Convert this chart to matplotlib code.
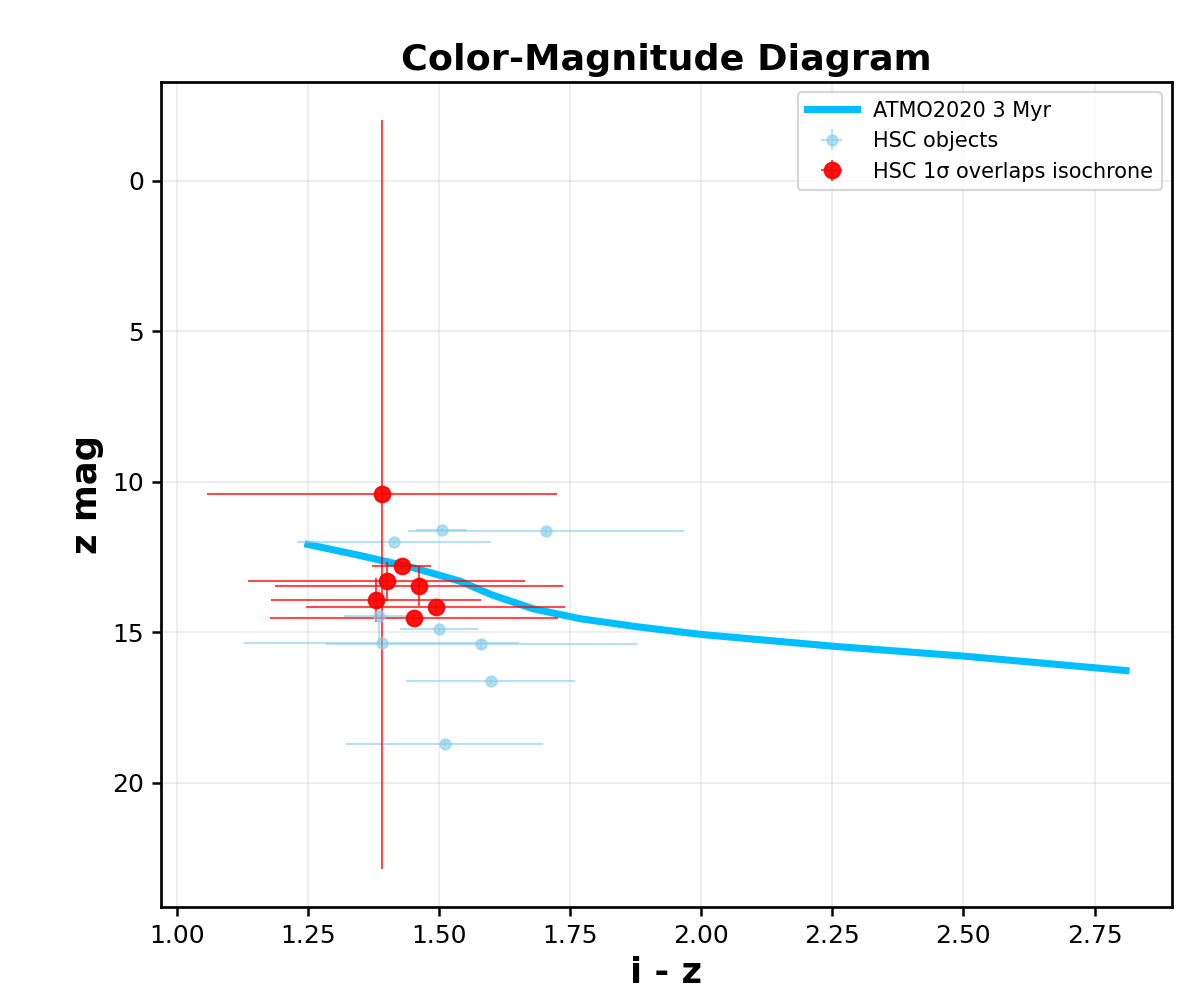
import numpy as np
import matplotlib.pyplot as plt

# ATMO2020 3 Myr isochrone (i - z, z mag)
iso_iz = [1.25, 1.35, 1.45, 1.54, 1.60, 1.68, 1.77, 1.88, 2.00, 2.25, 2.50, 2.81]
iso_z = [12.08, 12.45, 12.85, 13.30, 13.75, 14.22, 14.55, 14.82, 15.07, 15.46, 15.79, 16.27]

# HSC objects (not overlapping)
hsc_iz = [1.505, 1.704, 1.415, 1.385, 1.500, 1.391, 1.581, 1.599, 1.511]
hsc_z = [11.60, 11.64, 12.01, 14.45, 14.90, 15.36, 15.39, 16.63, 18.70]
hsc_iz_err = [0.049, 0.263, 0.185, 0.066, 0.075, 0.262, 0.297, 0.161, 0.188]
hsc_z_err = [0.08, 0.12, 0.08, 0.90, 0.08, 0.10, 0.15, 0.08, 0.08]

# HSC objects whose 1 sigma box overlaps the isochrone
ov_iz = [1.391, 1.429, 1.400, 1.462, 1.380, 1.494, 1.452]
ov_z = [10.42, 12.79, 13.30, 13.46, 13.92, 14.17, 14.53]
ov_iz_err = [0.334, 0.056, 0.264, 0.275, 0.200, 0.247, 0.275]
ov_z_err = [12.46, 0.10, 0.65, 0.66, 0.73, 0.10, 0.10]

plt.rcParams['font.family'] = ['DejaVu Sans']
fig = plt.figure(figsize=(1203 / 150, 988 / 150), dpi=150)
ax = fig.add_axes([0.1336, 0.082, 0.9742 - 0.1336, 0.917 - 0.082])

ax.plot(iso_iz, iso_z, color='deepskyblue', lw=3.4, label='ATMO2020 3 Myr')
ax.errorbar(hsc_iz, hsc_z, xerr=hsc_iz_err, yerr=hsc_z_err, fmt='o', ms=5,
            color='skyblue', ecolor='skyblue', elinewidth=1, alpha=0.6,
            label='HSC objects')
ax.errorbar(ov_iz, ov_z, xerr=ov_iz_err, yerr=ov_z_err, fmt='o', ms=7.5,
            color=(1, 0, 0, 0.92), ecolor=(1, 0, 0, 0.7), elinewidth=1,
            label='HSC 1\u03c3 overlaps isochrone')

ax.invert_yaxis()
ax.set_xticks(np.arange(1.0, 2.76, 0.25))
ax.set_yticks([0, 5, 10, 15, 20])
ax.grid(alpha=0.25)
ax.set_xlabel('i - z', fontsize=17, fontweight='bold')
ax.set_ylabel('z mag', fontsize=17, fontweight='bold')
ax.set_title('Color-Magnitude Diagram', fontsize=17.5, fontweight='bold')
ax.tick_params(labelsize=12, length=4.5, width=1.2)
for sp in ax.spines.values():
    sp.set_linewidth(1.3)
ax.legend(loc='upper right', fontsize=10, handlelength=2.4)

fig.savefig('out.png', dpi=150)
